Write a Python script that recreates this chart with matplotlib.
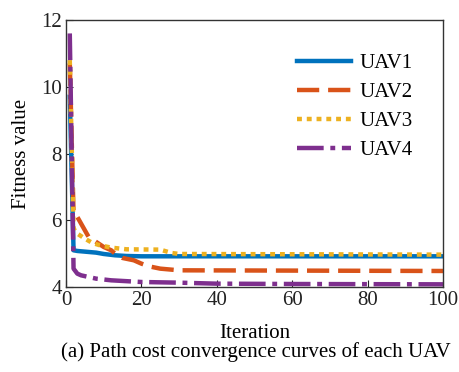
import matplotlib
matplotlib.use('Agg')
import matplotlib.pyplot as plt

# convergence breakpoints (iteration, fitness)
uav1_x = [1, 2, 3, 5, 8, 10, 13, 16, 20, 100]
uav1_y = [9.7, 5.10, 5.08, 5.06, 5.03, 4.99, 4.95, 4.93, 4.92, 4.92]

uav2_x = [1, 2, 3, 4, 5, 6, 8, 10, 12, 13, 15, 18, 20, 22, 25, 30, 100]
uav2_y = [10.7, 6.2, 6.1, 5.9, 5.7, 5.5, 5.35, 5.2, 5.1, 5.0, 4.87, 4.8, 4.7, 4.62, 4.55, 4.5, 4.48]

uav3_x = [1, 2, 3, 5, 7, 9, 12, 16, 25, 28, 30, 100]
uav3_y = [10.8, 5.75, 5.6, 5.45, 5.32, 5.25, 5.18, 5.13, 5.12, 5.02, 4.99, 4.97]

uav4_x = [1, 2, 3, 4, 6, 8, 12, 20, 30, 40, 60, 100]
uav4_y = [11.6, 4.55, 4.4, 4.35, 4.3, 4.25, 4.2, 4.15, 4.13, 4.1, 4.09, 4.08]

labels = ['UAV1', 'UAV2', 'UAV3', 'UAV4']
x_ticks = [0, 20, 40, 60, 80, 100]
y_ticks = [4, 6, 8, 10, 12]

COLORS = ['#0072BD', '#D95319', '#EDB120', '#7E2F8E']
FS = 15

plt.rcParams['font.family'] = ['Liberation Serif', 'DejaVu Serif']

fig = plt.figure(figsize=(4.6, 3.72), dpi=100)
ax = fig.add_axes([0.1435, 0.2285, 0.8195, 0.7175])

lw = 3.2
ax.plot(uav1_x, uav1_y, color=COLORS[0], lw=lw, label=labels[0])
ax.plot(uav2_x, uav2_y, color=COLORS[1], lw=lw, dashes=(5, 2), label=labels[1])
ax.plot(uav3_x, uav3_y, color=COLORS[2], lw=lw, dashes=(1.1, 1.1), label=labels[2])
ax.plot(uav4_x, uav4_y, color=COLORS[3], lw=lw, dashes=(6, 1.5, 1.1, 1.5), label=labels[3])

ax.set_xlim(0, 100)
ax.set_ylim(4, 12)
ax.set_xticks(x_ticks)
ax.set_yticks(y_ticks)
ax.tick_params(direction='in', length=5, labelsize=FS, colors='#222222', pad=3)
for s in ax.spines.values():
    s.set_color('#333333')
    s.set_linewidth(1.0)

ax.set_xlabel('Iteration', fontsize=FS, labelpad=10)
ax.set_ylabel('Fitness value', fontsize=FS, labelpad=7)

ax.legend(loc='upper right', bbox_to_anchor=(0.97, 0.945), frameon=False,
          fontsize=FS, handlelength=2.6, handletextpad=0.4, labelspacing=0.45)

fig.text(0.556, 0.054, '(a) Path cost convergence curves of each UAV',
         ha='center', va='center', fontsize=FS)

fig.savefig('out.png', dpi=100)
